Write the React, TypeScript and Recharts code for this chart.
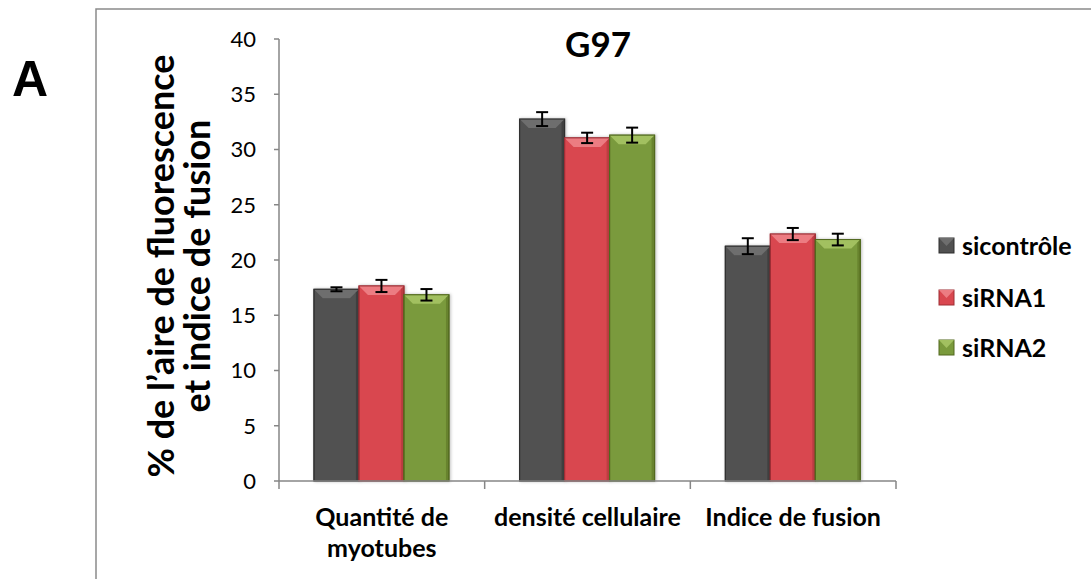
import React from "react";
import { BarChart, Bar, XAxis, YAxis, ErrorBar } from "recharts";

const categories = ["Quantité de\nmyotubes", "densité cellulaire", "Indice de fusion"];
const sicontrole = [17.35, 32.75, 21.25];
const sicontroleErr = [0.18, 0.63, 0.72];
const sirna1 = [17.65, 31.05, 22.35];
const sirna1Err = [0.55, 0.47, 0.55];
const sirna2 = [16.85, 31.3, 21.85];
const sirna2Err = [0.52, 0.68, 0.53];
const yTicks = [0, 5, 10, 15, 20, 25, 30, 35, 40];

const series = [
  { key: "sicontrole", err: "sicontroleErr", name: "sicontrôle", body: "#515151", top: "#6e6e6e", edge: "#2e2e2e" },
  { key: "sirna1", err: "sirna1Err", name: "siRNA1", body: "#d9474f", top: "#ec7c82", edge: "#9e2f35" },
  { key: "sirna2", err: "sirna2Err", name: "siRNA2", body: "#7a9a3c", top: "#a2c060", edge: "#52691f" },
];

const data = categories.map((c, i) => ({
  name: c,
  sicontrole: sicontrole[i],
  sicontroleErr: sicontroleErr[i],
  sirna1: sirna1[i],
  sirna1Err: sirna1Err[i],
  sirna2: sirna2[i],
  sirna2Err: sirna2Err[i],
}));

const FONT = "Lato, 'Open Sans', sans-serif";
const AXIS = "#868686";

// bevelled bar like the office chart style
const makeShape = (s: typeof series[number]) => (props: any) => {
  const { x, y, width: w, height: h } = props;
  if (!h || h <= 0) return null;
  const b = Math.min(9, w / 4, h / 2);
  return (
    <g filter="url(#barShadow)">
      <rect x={x} y={y} width={w} height={h} fill={s.body} stroke={s.edge} strokeWidth={1} />
      <polygon points={`${x},${y} ${x + w},${y} ${x + w - b},${y + b} ${x + b},${y + b}`} fill={s.top} />
      <polygon points={`${x + w},${y} ${x + w},${y + h} ${x + w - 3},${y + h} ${x + w - 3},${y + 3}`} fill={s.edge} opacity={0.45} />
      <rect x={x} y={y} width={w} height={h} fill="none" stroke={s.edge} strokeWidth={1} />
    </g>
  );
};

const CategoryTick = (props: any) => {
  const { x, y, payload, index } = props;
  const half = payload.offset || 616 / 6;
  const lines = String(payload.value).split("\n");
  const axisY = y;
  return (
    <g>
      <line x1={x - half} x2={x - half} y1={axisY} y2={axisY + 8} stroke={AXIS} strokeWidth={1.5} />
      {index === categories.length - 1 && (
        <line x1={x + half} x2={x + half} y1={axisY} y2={axisY + 8} stroke={AXIS} strokeWidth={1.5} />
      )}
      {lines.map((l, i) => (
        <text key={i} x={x} y={axisY + 45 + i * 31} textAnchor="middle" fontFamily={FONT} fontWeight="bold" fontSize={25} fill="#000">
          {l}
        </text>
      ))}
    </g>
  );
};

export default function App() {
  return (
    <div style={{ position: "absolute", left: 0, top: 0, width: 1091, height: 579, background: "#fff" }}>
      <BarChart
        width={1091}
        height={579}
        data={data}
        margin={{ top: 39, right: 195, bottom: 38, left: 219 }}
        barCategoryGap="17%"
        barGap={0}
      >
        <defs>
          <filter id="barShadow" x="-20%" y="-5%" width="140%" height="110%">
            <feDropShadow dx="1" dy="0" stdDeviation="1.5" floodColor="#000" floodOpacity="0.25" />
          </filter>
        </defs>
        <XAxis
          dataKey="name"
          height={60}
          axisLine={{ stroke: AXIS, strokeWidth: 1.5 }}
          tickLine={false}
          tickSize={0}
          tickMargin={0}
          interval={0}
          tick={<CategoryTick />}
        />
        <YAxis
          width={60}
          domain={[0, 40]}
          ticks={yTicks}
          interval={0}
          axisLine={{ stroke: AXIS, strokeWidth: 1.5 }}
          tickLine={{ stroke: AXIS, strokeWidth: 1.5 }}
          tickSize={5}
          tickMargin={18}
          tick={{ fontFamily: FONT, fontSize: 22, fill: "#000" }}
        />
        {series.map((s) => (
          <Bar key={s.key} dataKey={s.key} name={s.name} fill={s.body} shape={makeShape(s)} isAnimationActive={false}>
            <ErrorBar dataKey={s.err} width={6} stroke="#000" strokeWidth={2} />
          </Bar>
        ))}
      </BarChart>
      <svg width={1091} height={579} style={{ position: "absolute", left: 0, top: 0, pointerEvents: "none" }}>
        <path d="M96,579 L96,9 L1091,9" fill="none" stroke="#8a8a8a" strokeWidth={1.5} />
        <text x={12} y={96} fontFamily="'Liberation Sans', Arial, sans-serif" fontWeight="bold" fontSize={50} fill="#000">
          A
        </text>
        <text x={598} y={57} textAnchor="middle" fontFamily={FONT} fontWeight="bold" fontSize={35} fill="#000">
          G97
        </text>
        <text x={174} y={266} transform="rotate(-90 174 266)" textAnchor="middle" fontFamily={FONT} fontWeight="bold" fontSize={36} fill="#000">
          % de l’aire de fluorescence
        </text>
        <text x={210} y={266} transform="rotate(-90 210 266)" textAnchor="middle" fontFamily={FONT} fontWeight="bold" fontSize={36} fill="#000">
          et indice de fusion
        </text>
        {series.map((s, i) => {
          const cy = [246, 298, 348][i];
          return (
            <g key={s.key}>
              <rect x={939} y={cy - 8} width={15} height={15} fill={s.body} stroke={s.edge} strokeWidth={1} />
              <polygon points={`${939},${cy - 8} ${954},${cy - 8} ${946.5},${cy}`} fill={s.top} />
              <text x={962} y={cy + 9} fontFamily={FONT} fontWeight="bold" fontSize={25} fill="#000">
                {s.name}
              </text>
            </g>
          );
        })}
      </svg>
    </div>
  );
}
